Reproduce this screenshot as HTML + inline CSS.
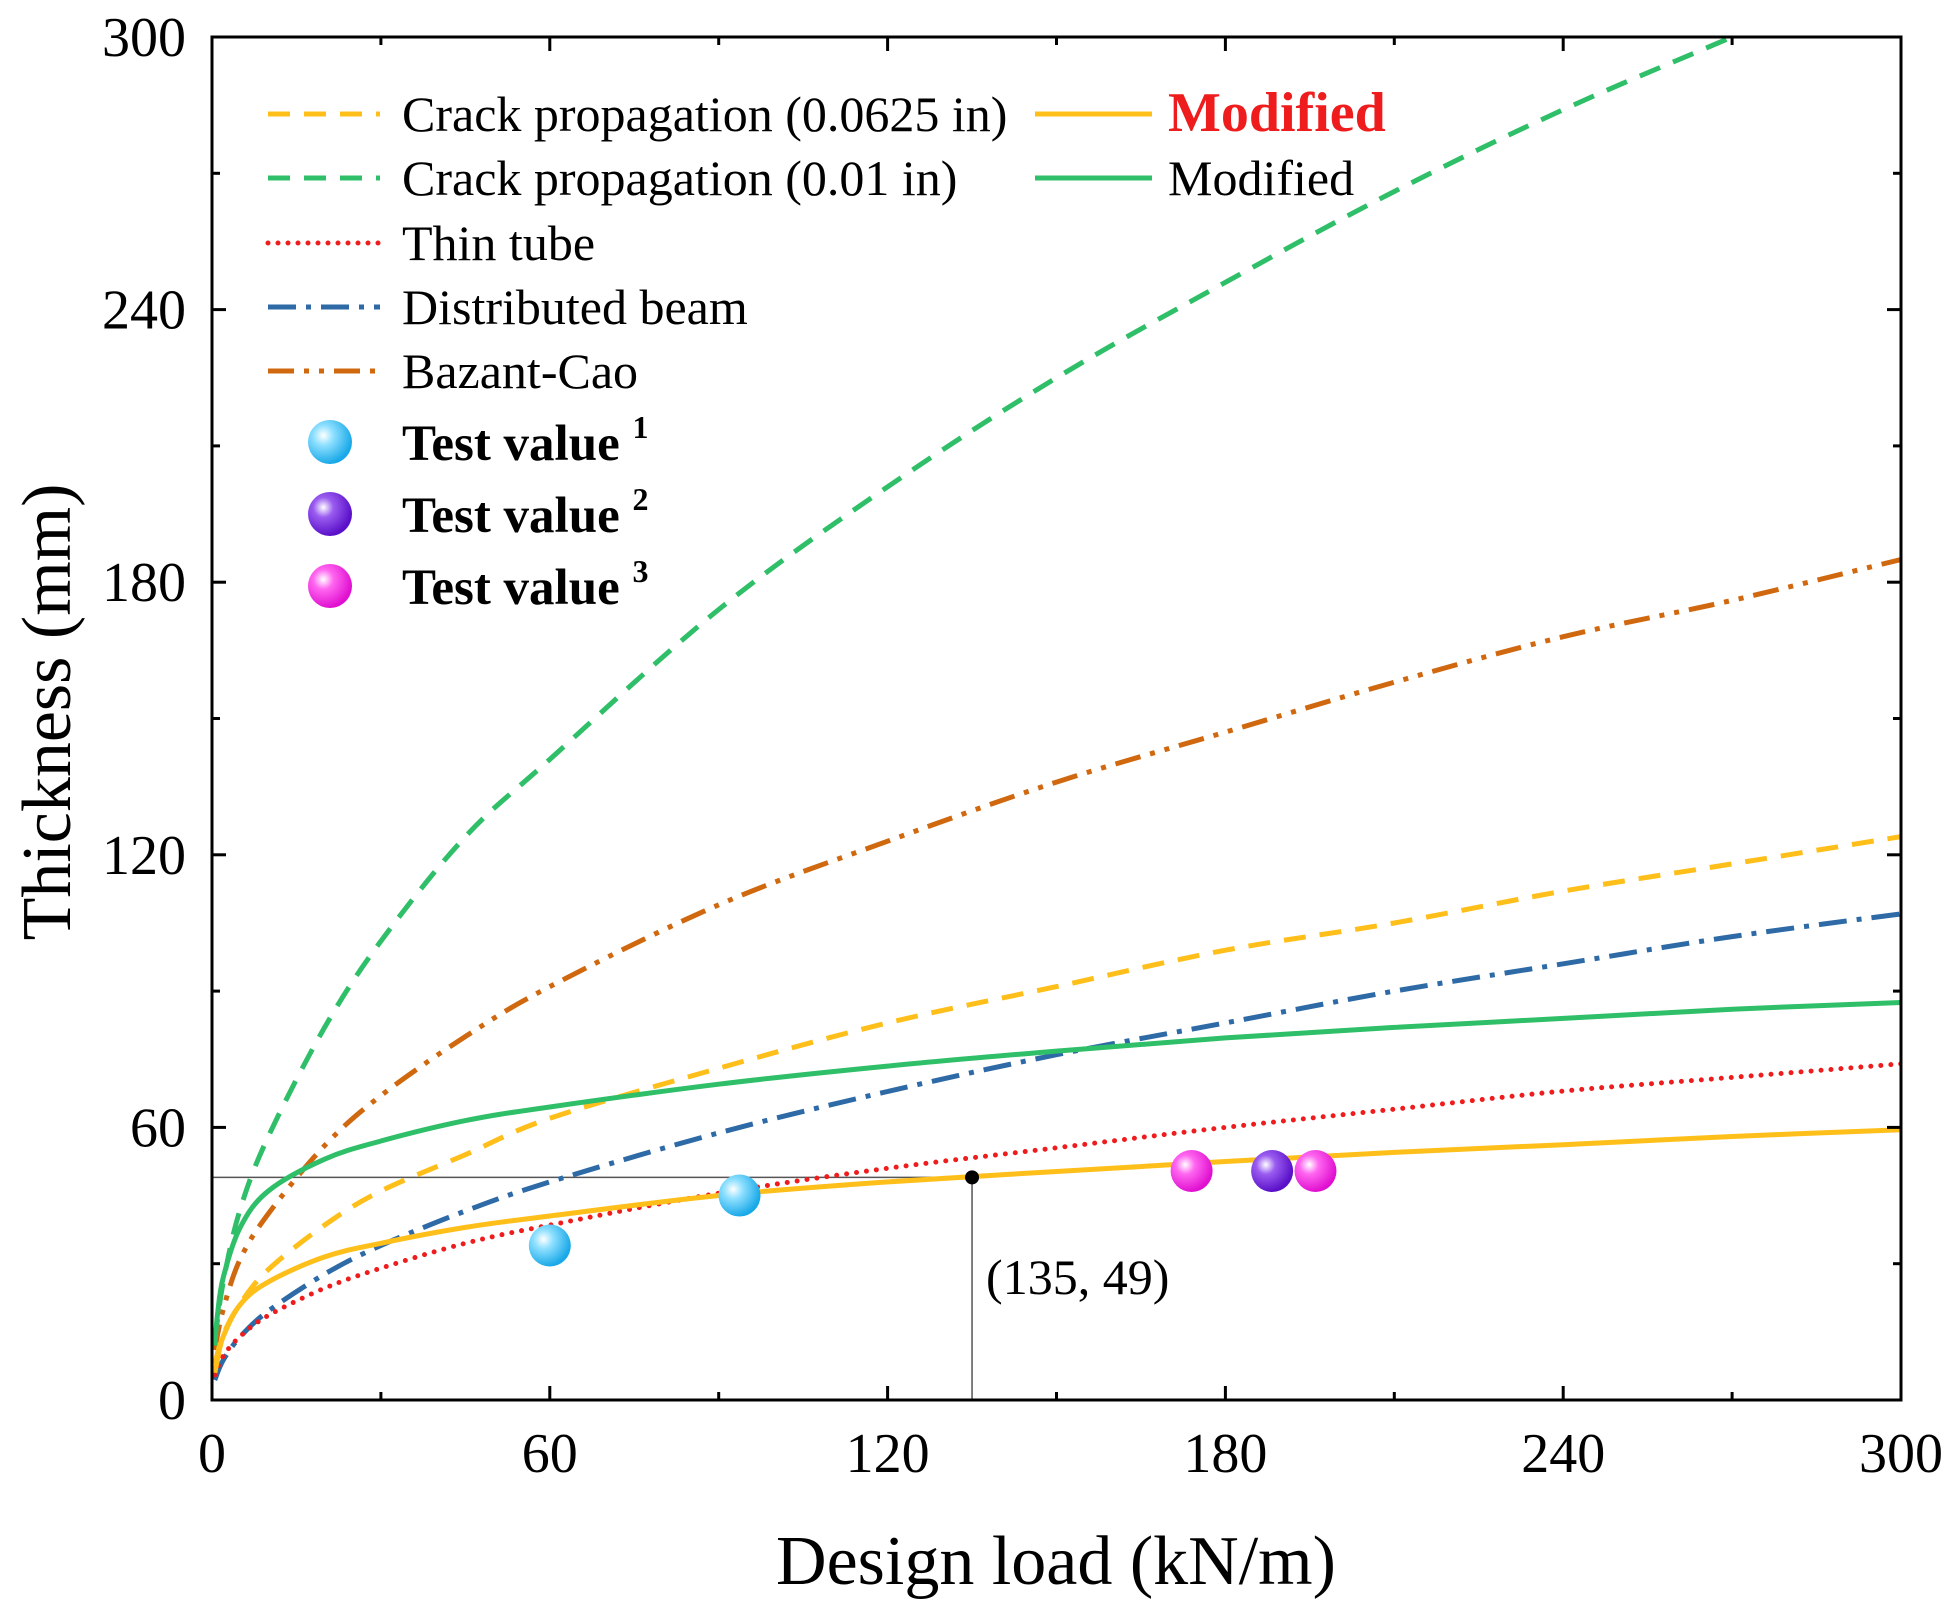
<!DOCTYPE html>
<html><head><meta charset="utf-8"><style>
body{margin:0;background:#fff}
svg text{font-family:"Liberation Serif",serif}
</style></head><body>
<svg id="c" width="1953" height="1604" viewBox="0 0 1953 1604" xmlns="http://www.w3.org/2000/svg">
<defs>
<radialGradient id="gc" cx="35%" cy="35%" r="65%"><stop offset="0" stop-color="#fff"/><stop offset="0.35" stop-color="#8fe0ff"/><stop offset="1" stop-color="#1aa9e8"/></radialGradient>
<radialGradient id="gp" cx="35%" cy="35%" r="65%"><stop offset="0" stop-color="#fff"/><stop offset="0.35" stop-color="#9a5cf0"/><stop offset="1" stop-color="#5a10c8"/></radialGradient>
<radialGradient id="gm" cx="35%" cy="35%" r="65%"><stop offset="0" stop-color="#fff"/><stop offset="0.35" stop-color="#ff66f0"/><stop offset="1" stop-color="#e010d0"/></radialGradient>
<clipPath id="clip"><rect x="212" y="37" width="1689" height="1363"/></clipPath>
</defs>
<g id="plot"></g>
</svg>
<script>
const xs=[0.5,2,5,10,20,30,45,60,90,120,150,180,210,240,270,300];
const crack001=[13,26,42,58,82,101,124,141,174,201,225,246,266,284,300,316];
const bazant=[11,20,31,41,56,67,80,91,109,123,136,147,158,168,176,185];
const crack0625=[7.9,14.4,21.2,28.7,38.5,46,54,62,73,83,91,99,105,112,118,124];
const distBeam=[4.4,8.8,13.9,19.6,27.7,34,41.6,48,58.8,67.9,76,83,90,96,102,107];
const thinTube=[5.5,9.7,14,18.6,24.6,29,34.5,38.5,45.5,51,55.5,60,64,68,71,74];
const modXs=[0.5,1,2,5,10,20,30,45,60,90,120,150,180,210,240,270,300];
const modYellow=[6,9,14,21,26,31.5,34.5,38,40.5,45,48,50.3,52.5,54.5,56.2,58,59.5];
const modGreen=[12,19,27,38,46,53,57,61.5,64.5,69.5,73.5,76.8,79.7,82,84,86,87.5];
const test1X=[60,93.7], test1Y=[34,45];
const test2X=[188.3], test2Y=[50.4];
const test3X=[174,196], test3Y=[50.4,50.4];
const ticks=[0,60,120,180,240,300];
const annot=[135,49];

const L=212,R=1901,T=37,B=1400;
const sx=v=>L+v/300*(R-L), sy=v=>B-v/300*(B-T);
const NS='http://www.w3.org/2000/svg';
const g=document.getElementById('plot');
function mk(tag,at,parent){const e=document.createElementNS(NS,tag);for(const k in at)e.setAttribute(k,at[k]);(parent||g).appendChild(e);return e;}
function line(X,Y,stroke,dash,w,name){
  const P=X.map((x,i)=>[sx(x),sy(Y[i])]);
  let d='M'+P[0][0].toFixed(1)+','+P[0][1].toFixed(1);
  for(let i=0;i<P.length-1;i++){
    const p0=P[Math.max(0,i-1)],p1=P[i],p2=P[i+1],p3=P[Math.min(P.length-1,i+2)];
    const c1=[p1[0]+(p2[0]-p0[0])/6,p1[1]+(p2[1]-p0[1])/6];
    const c2=[p2[0]-(p3[0]-p1[0])/6,p2[1]-(p3[1]-p1[1])/6];
    d+='C'+c1.map(v=>v.toFixed(1)).join(',')+' '+c2.map(v=>v.toFixed(1)).join(',')+' '+p2.map(v=>v.toFixed(1)).join(',');
  }
  const p=mk('path',{d:d,fill:'none',stroke:stroke,'stroke-width':w,'stroke-dasharray':dash,'clip-path':'url(#clip)','stroke-linecap':dash.startsWith('0')?'round':'butt'});
  
  
}
const ah=mk('line',{x1:L,y1:sy(annot[1]),x2:sx(annot[0]),y2:sy(annot[1]),stroke:'#555','stroke-width':1.5});


const av=mk('line',{x1:sx(annot[0]),y1:sy(annot[1]),x2:sx(annot[0]),y2:B,stroke:'#555','stroke-width':1.5});



line(xs,crack001,'#2fbf68','22,14',5,'crack-propagation-001-line');
line(xs,bazant,'#d0680f','26,10,5,10,5,10',5,'bazant-cao-line');
line(xs,crack0625,'#ffbf1a','22,14',5,'crack-propagation-0625-line');
line(xs,distBeam,'#2e6aa6','28,10,5,10',5,'distributed-beam-line');
line(xs,thinTube,'#ee1c1c','0,10',5,'thin-tube-line');
line(modXs,modGreen,'#2fbf68','',5,'modified-green-line');
line(modXs,modYellow,'#ffbf1a','',5,'modified-yellow-line');

const ad=mk('circle',{cx:sx(annot[0]),cy:sy(annot[1]),r:7,fill:'#000'});


const at=mk('text',{x:sx(annot[0])+14,y:1294,'font-size':50});at.textContent='(135, 49)';



function balls(X,Y,fill,name){X.forEach((x,i)=>{const c=mk('circle',{cx:sx(x),cy:sy(Y[i]),r:21,fill:fill});

});}
balls(test1X,test1Y,'url(#gc)','test-value-1-point');
balls(test2X,test2Y,'url(#gp)','test-value-2-point');
balls(test3X,test3Y,'url(#gm)','test-value-3-point');

const fr=mk('rect',{x:L,y:T,width:R-L,height:B-T,fill:'none',stroke:'#000','stroke-width':3});


for(let v=0;v<=300;v+=30){
  const major=v%60===0,len=major?14:8;
  mk('line',{x1:sx(v),y1:B,x2:sx(v),y2:B-len,stroke:'#000','stroke-width':3});
  mk('line',{x1:sx(v),y1:T,x2:sx(v),y2:T+len,stroke:'#000','stroke-width':3});
  mk('line',{x1:L,y1:sy(v),x2:L+len,y2:sy(v),stroke:'#000','stroke-width':3});
  mk('line',{x1:R,y1:sy(v),x2:R-len,y2:sy(v),stroke:'#000','stroke-width':3});
}
ticks.forEach(v=>{
  const tx=mk('text',{x:sx(v),y:B+72,'font-size':56,'text-anchor':'middle'});tx.textContent=v;
  
  
  const ty=mk('text',{x:L-26,y:sy(v)+19,'font-size':56,'text-anchor':'end'});ty.textContent=v;
  
  
});
const xt=mk('text',{x:1056,y:1584,'font-size':70,'text-anchor':'middle'});xt.textContent='Design load (kN/m)';


const yt=mk('text',{x:0,y:0,'font-size':70,'text-anchor':'middle',transform:'translate(70,712) rotate(-90)'});yt.textContent='Thickness (mm)';



function leg(y,stroke,dash,label,x0,x1,tx,extra){
  const l=mk('line',{x1:x0,y1:y,x2:x1,y2:y,stroke:stroke,'stroke-width':5,'stroke-dasharray':dash,'stroke-linecap':dash.startsWith('0')?'round':'butt'});
  
  
  const t=mk('text',Object.assign({x:tx,y:y+17,'font-size':50},extra||{}));t.textContent=label;
  
  
}
leg(114,'#ffbf1a','22,14','Crack propagation (0.0625 in)',268,380,402);
leg(178,'#2fbf68','22,14','Crack propagation (0.01 in)',268,380,402);
leg(243,'#ee1c1c','0,10','Thin tube',268,380,402);
leg(307,'#2e6aa6','28,10,5,10','Distributed beam',268,380,402);
leg(371,'#d0680f','26,10,5,10,5,10','Bazant-Cao',268,380,402);
leg(114,'#ffbf1a','','Modified',1035,1152,1168,{'font-weight':'bold',fill:'#ee1c1c','font-size':56});
leg(178,'#2fbf68','','Modified',1035,1152,1168);
[['url(#gc)',442,'1'],['url(#gp)',514,'2'],['url(#gm)',586,'3']].forEach(([f,y,n])=>{
  const c=mk('circle',{cx:330,cy:y,r:22,fill:f});
  
  
  const t=mk('text',{x:402,y:y+18,'font-size':51,'font-weight':'bold'});
  t.innerHTML='Test value <tspan font-size="32" dy="-22">'+n+'</tspan>';
  
  
});
</script>
</body></html>
